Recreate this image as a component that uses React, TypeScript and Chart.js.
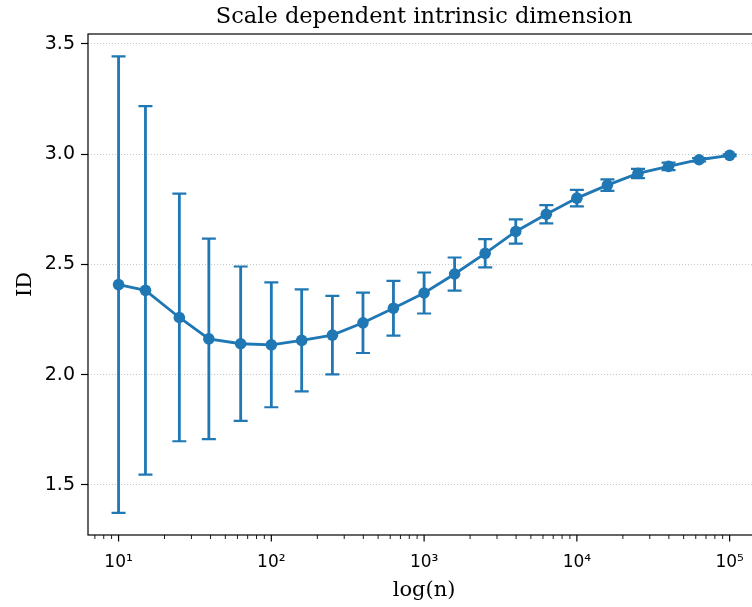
import React, { useEffect, useRef } from "react";
import { Chart, registerables } from "chart.js";

Chart.register(...registerables);

const N_VALUES = [10, 15, 25, 39, 63, 100, 158, 251, 398, 630, 1000, 1584, 2511, 3981, 6309, 10000, 15848, 25118, 39810, 63095, 100000];
const ID_VALUES = [2.408, 2.382, 2.259, 2.162, 2.140, 2.135, 2.155, 2.179, 2.235, 2.301, 2.370, 2.456, 2.550, 2.649, 2.727, 2.800, 2.859, 2.912, 2.944, 2.974, 2.994];
const ID_ERRORS = [1.035, 0.835, 0.561, 0.454, 0.350, 0.283, 0.231, 0.178, 0.137, 0.124, 0.093, 0.075, 0.064, 0.055, 0.041, 0.037, 0.026, 0.021, 0.017, 0.008, 0.004];
const Y_TICKS = [1.5, 2.0, 2.5, 3.0, 3.5];
const X_DECADES = [1, 2, 3, 4, 5];
const SUPERSCRIPTS: Record<number, string> = { 1: "\u00b9", 2: "\u00b2", 3: "\u00b3", 4: "\u2074", 5: "\u2075" };

const BLUE = "#1f77b4";
const SERIF = "'DejaVu Serif', serif";
const SANS = "'DejaVu Sans', sans-serif";

export default function App() {
  const canvasRef = useRef<HTMLCanvasElement | null>(null);

  useEffect(() => {
    if (!canvasRef.current) return;

    const errorBars = {
      id: "errorBars",
      beforeDatasetsDraw(chart: any) {
        const { ctx } = chart;
        const xs = chart.scales.x;
        const ys = chart.scales.y;
        ctx.save();
        ctx.strokeStyle = BLUE;
        N_VALUES.forEach((n, i) => {
          const px = xs.getPixelForValue(n);
          const top = ys.getPixelForValue(ID_VALUES[i] + ID_ERRORS[i]);
          const bot = ys.getPixelForValue(ID_VALUES[i] - ID_ERRORS[i]);
          ctx.lineWidth = 2.8;
          ctx.beginPath();
          ctx.moveTo(px, top);
          ctx.lineTo(px, bot);
          ctx.stroke();
          ctx.lineWidth = 2.2;
          ctx.beginPath();
          ctx.moveTo(px - 7, top);
          ctx.lineTo(px + 7, top);
          ctx.moveTo(px - 7, bot);
          ctx.lineTo(px + 7, bot);
          ctx.stroke();
        });
        ctx.restore();
      },
    };

    const frame = {
      id: "frame",
      afterDraw(chart: any) {
        const { ctx, chartArea: a } = chart;
        const xs = chart.scales.x;
        ctx.save();
        ctx.strokeStyle = "#000";
        xs.ticks.forEach((t: any) => {
          const px = xs.getPixelForValue(t.value);
          if (px < a.left - 0.5 || px > a.right + 0.5) return;
          const lg = Math.log10(t.value);
          const major = Math.abs(lg - Math.round(lg)) < 1e-6;
          ctx.lineWidth = major ? 1.2 : 0.9;
          ctx.beginPath();
          ctx.moveTo(px, a.bottom);
          ctx.lineTo(px, a.bottom + (major ? 6.5 : 4));
          ctx.stroke();
        });
        ctx.lineWidth = 1.2;
        ctx.strokeRect(a.left, a.top, a.right - a.left, a.bottom - a.top);
        ctx.restore();
      },
    };

    const xTickValues: number[] = [];
    for (let e = 0; e <= 5; e++) {
      for (let k = 1; k <= 9; k++) {
        const v = k * Math.pow(10, e);
        if (v >= Math.pow(10, 0.8) && v <= Math.pow(10, 5.2)) xTickValues.push(v);
      }
    }

    const chart = new Chart(canvasRef.current, {
      type: "line",
      data: {
        datasets: [
          {
            data: N_VALUES.map((n, i) => ({ x: n, y: ID_VALUES[i] })),
            borderColor: BLUE,
            backgroundColor: BLUE,
            borderWidth: 2.8,
            pointRadius: 5.8,
            pointBackgroundColor: BLUE,
            pointBorderColor: BLUE,
            pointBorderWidth: 0,
            tension: 0,
          },
        ],
      },
      options: {
        animation: false,
        responsive: false,
        layout: { padding: { left: 0, right: 0, top: 0, bottom: 0 } },
        plugins: {
          legend: { display: false },
          tooltip: { enabled: false },
          title: {
            display: true,
            text: "Scale dependent intrinsic dimension",
            fullSize: false,
            color: "#000",
            font: { family: SERIF, size: 22.5, weight: "normal", lineHeight: 1.2 },
            padding: { top: 3.5, bottom: 3.5 },
          },
        },
        scales: {
          x: {
            type: "logarithmic",
            min: Math.pow(10, 0.8),
            max: Math.pow(10, 5.2),
            afterBuildTicks: (scale: any) => {
              scale.ticks = xTickValues.map((v) => ({ value: v }));
            },
            afterFit: (scale: any) => {
              scale.height = 72;
            },
            grid: {
              display: true,
              drawOnChartArea: false,
              drawTicks: true,
              tickLength: 7,
              color: "rgba(0,0,0,0)",
            },
            border: { display: false },
            ticks: {
              autoSkip: false,
              maxRotation: 0,
              minRotation: 0,
              padding: 10,
              color: "#000",
              font: { family: SANS, size: 17 },
              callback: (value: any) => {
                const v = Number(value);
                const lg = Math.log10(v);
                const r = Math.round(lg);
                if (Math.abs(lg - r) < 1e-6 && X_DECADES.includes(r)) return "10" + SUPERSCRIPTS[r];
                return "";
              },
            },
            title: {
              display: true,
              text: "log(n)",
              color: "#000",
              font: { family: SERIF, size: 21, lineHeight: 1.2 },
              padding: { top: 0, bottom: 4 },
            },
          },
          y: {
            type: "linear",
            min: 1.273,
            max: 3.544,
            afterBuildTicks: (scale: any) => {
              scale.ticks = Y_TICKS.map((v) => ({ value: v }));
            },
            afterFit: (scale: any) => {
              scale.width = 88;
            },
            grid: {
              display: true,
              drawOnChartArea: true,
              drawTicks: true,
              tickLength: 7,
              color: "#b0b0b0",
              lineWidth: 0.7,
              tickColor: "#000",
              tickBorderDash: [],
              tickWidth: 1.2,
            },
            border: { display: false, dash: [1, 2] },
            ticks: {
              padding: 6,
              color: "#000",
              font: { family: SANS, size: 19 },
              callback: (value: any) => Number(value).toFixed(1),
            },
            title: {
              display: true,
              text: "ID",
              color: "#000",
              font: { family: SERIF, size: 21, lineHeight: 1.2 },
              padding: { top: 13, bottom: 0 },
            },
          },
        },
      },
      plugins: [errorBars, frame],
    } as any);

    return () => chart.destroy();
  }, []);

  return (
    <div style={{ position: "absolute", left: 0, top: 0, width: 752, height: 607, overflow: "hidden", background: "#fff" }}>
      <canvas ref={canvasRef} width={766} height={607} style={{ display: "block", width: 766, height: 607 }} />
    </div>
  );
}
